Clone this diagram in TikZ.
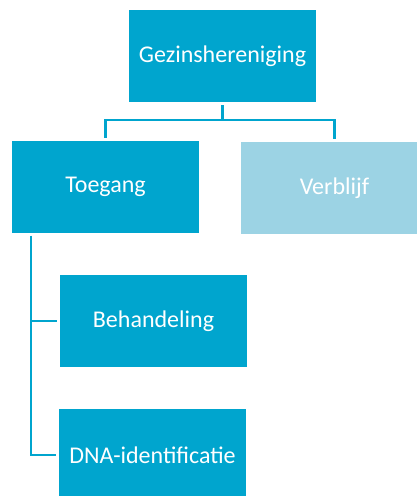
\documentclass[tikz,border=0pt]{standalone}
\usepackage{fontspec}
\setmainfont{Carlito}
\definecolor{boxblue}{RGB}{0,165,206}
\definecolor{paleblue}{RGB}{156,211,228}

\begin{document}
\begin{tikzpicture}[x=1pt,y=1pt]
   \useasboundingbox (0,0) rectangle (417,496);
   \tikzstyle{main}=[rectangle, fill=boxblue, text=white, minimum width=187pt, minimum height=92pt, inner sep=0pt, font=\fontsize{24}{28}\selectfont]
   \tikzstyle{conn}=[draw=boxblue, line width=2.8pt]
   \node[main] (gezin) at (222.5,440) {Gezinshereniging};
   \node[main] (toegang) at (105.5,309) {Toegang};
   \node[main, fill=paleblue] (verblijf) at (334.5,308) {Verblijf};
   \node[main] (behandeling) at (153.5,175) {Behandeling};
   \node[main] (dna) at (152.5,41) {DNA-identificatie};
   \coordinate (split) at (222.5,376);
   \coordinate (trunk) at (31,260);
   \path[conn, shorten <=3pt] (gezin.south) -- (split);
   \foreach \kid in {toegang,verblijf}
       \path[conn, shorten >=3pt] (split) -| (\kid.north);
   \foreach \kid in {behandeling,dna}
       \path[conn, shorten >=3pt] (trunk) |- (\kid.west);
\end{tikzpicture}
\end{document}
